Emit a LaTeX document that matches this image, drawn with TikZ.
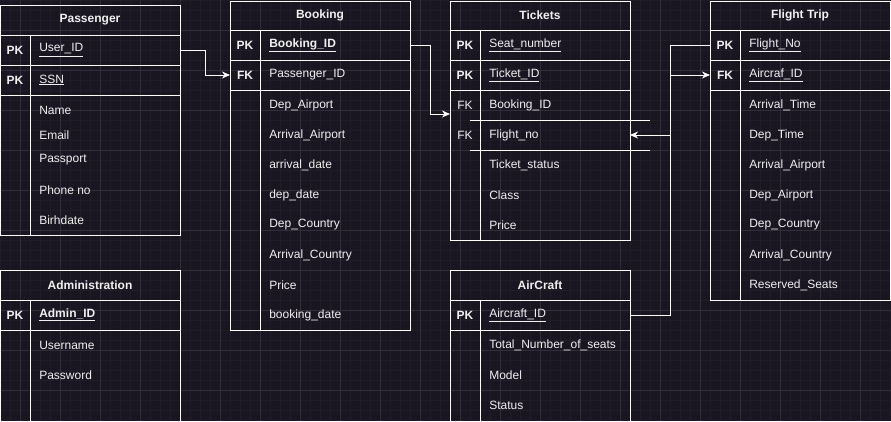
\documentclass[tikz,border=0pt]{standalone}
\usepackage{fontspec}
\setmainfont{Liberation Sans}
\usetikzlibrary{arrows.meta}
\definecolor{canvas}{RGB}{25,22,33}
\definecolor{gridminor}{RGB}{32,29,40}
\definecolor{gridmajor}{RGB}{50,47,58}
\definecolor{ink}{RGB}{240,240,240}
\newcommand{\erfont}{\fontsize{12}{14}\selectfont}

\tikzset{every picture/.style={line width=1pt}}
\tikzset{
  tbl/.style={draw=white, anchor=north west, inner sep=0pt, outer sep=0pt, minimum width=180},
  title/.style={inner sep=0.75pt, text=ink, font=\erfont\bfseries},
  attr/.style={anchor=west, inner sep=0.75pt, text=ink, font=\erfont},
  keytag/.style={inner sep=0.75pt, text=ink, font=\erfont\bfseries},
  fktag/.style={inner sep=0.75pt, text=ink, font=\erfont},
  rule/.style={draw=white},
  link/.style={draw=white, -{Stealth[length=8pt,width=7pt,inset=2.5pt]}},
}

\begin{document}
\begin{tikzpicture}[x=1pt,y=1pt,yscale=-1,xscale=1]
        \useasboundingbox (0,0) rectangle (891,421);
        \fill [canvas] (0,0) rectangle (891,421);
        %grid
        \foreach \gx in {0,10,...,890} {\draw [gridminor, line width=0.5pt] (\gx,0) -- (\gx,421);}
        \foreach \gy in {0,10,...,420} {\draw [gridminor, line width=0.5pt] (0,\gy) -- (891,\gy);}
        \foreach \gx in {20,60,...,860} {\draw [gridmajor, line width=0.6pt] (\gx,0) -- (\gx,421);}
        \foreach \gy in {30,70,...,410} {\draw [gridmajor, line width=0.6pt] (0,\gy) -- (891,\gy);}

        %Table: Passenger
        \draw (0.5,5) node [tbl, minimum height=230] (passenger) {};
        \draw [rule] (0.5,35) -- (180.5,35) ;
        \draw [rule] (0.5,65) -- (180.5,65) ;
        \draw [rule] (0.5,95) -- (180.5,95) ;
        \draw [rule] (30,35) -- (30,235) ;
        % Text Node
        \draw (90,20) node [title] (pTitle) {Passenger};
        \draw (15,50) node [keytag] (pPK1) {PK};
        \draw (15,80) node [keytag] (pPK2) {PK};
        \draw (38,50) node [attr] (pUser) {\underline{User\_ID}};
        \draw (38,80) node [attr] (pSSN) {\underline{SSN}};
        \draw (38,110) node [attr] (pName) {Name};
        \draw (38,135) node [attr] (pEmail) {Email};
        \draw (38,160) node [attr] (pPassport) {Passport};
        \draw (38,190) node [attr] (pPhone) {Phone no};
        \draw (38,220) node [attr] (pBirth) {Birhdate};

        %Table: Administration
        \draw (0.5,270) node [tbl, minimum height=160] (admin) {};
        \draw [rule] (0.5,300) -- (180.5,300) ;
        \draw [rule] (0.5,330) -- (180.5,330) ;
        \draw [rule] (30,300) -- (30,430) ;
        % Text Node
        \draw (90,285) node [title] (adTitle) {Administration};
        \draw (15,315) node [keytag] (adPK) {PK};
        \draw (38,315) node [attr] (adID) {\textbf{\underline{Admin\_ID}}};
        \draw (38,345) node [attr] (adUser) {Username};
        \draw (38,375) node [attr] (adPass) {Password};

        %Table: Booking
        \draw (230,1) node [tbl, minimum height=329] (booking) {};
        \draw [rule] (230,30) -- (410,30) ;
        \draw [rule] (230,60) -- (410,60) ;
        \draw [rule] (230,90) -- (410,90) ;
        \draw [rule] (260,30) -- (260,330) ;
        % Text Node
        \draw (320,15) node [title] (bTitle) {Booking};
        \draw (245,45) node [keytag] (bPK) {PK};
        \draw (245,75) node [keytag] (bFK) {FK};
        \draw (268,45) node [attr] (bBookID) {\textbf{\underline{Booking\_ID}}};
        \draw (268,75) node [attr] (bPass) {Passenger\_ID};
        \draw (268,105) node [attr] (bDepAir) {Dep\_Airport};
        \draw (268,135) node [attr] (bArrAir) {Arrival\_Airport};
        \draw (268,165) node [attr] (bArrDate) {arrival\_date};
        \draw (268,195) node [attr] (bDepDate) {dep\_date};
        \draw (268,225) node [attr] (bDepCty) {Dep\_Country};
        \draw (268,255) node [attr] (bArrCty) {Arrival\_Country};
        \draw (268,285) node [attr] (bPrice) {Price};
        \draw (268,315) node [attr] (bBookDate) {booking\_date};

        %Table: Tickets
        \draw (450,1) node [tbl, minimum height=239] (tickets) {};
        \draw [rule] (450,30) -- (630,30) ;
        \draw [rule] (450,60) -- (630,60) ;
        \draw [rule] (450,90) -- (630,90) ;
        \draw [rule] (480,30) -- (480,240) ;
        \draw [rule] (470,120) -- (650,120) ;
        \draw [rule] (470,150) -- (650,150) ;
        % Text Node
        \draw (540,15) node [title] (tTitle) {Tickets};
        \draw (465,45) node [keytag] (tPK1) {PK};
        \draw (465,75) node [keytag] (tPK2) {PK};
        \draw (465,105) node [fktag] (tFK1) {FK};
        \draw (465,135) node [fktag] (tFK2) {FK};
        \draw (488,45) node [attr] (tSeat) {\underline{Seat\_number}};
        \draw (488,75) node [attr] (tTicket) {\underline{Ticket\_ID}};
        \draw (488,105) node [attr] (tBook) {Booking\_ID};
        \draw (488,135) node [attr] (tFlight) {Flight\_no};
        \draw (488,165) node [attr] (tStatus) {Ticket\_status};
        \draw (488,195) node [attr] (tClass) {Class};
        \draw (488,225) node [attr] (tPrice) {Price};
        \coordinate (tBookIn) at (450,114);

        %Table: AirCraft
        \draw (450,270) node [tbl, minimum height=160] (aircraft) {};
        \draw [rule] (450,300) -- (630,300) ;
        \draw [rule] (450,330) -- (630,330) ;
        \draw [rule] (480,300) -- (480,430) ;
        % Text Node
        \draw (540,285) node [title] (aTitle) {AirCraft};
        \draw (465,315) node [keytag] (aPK) {PK};
        \draw (488,315) node [attr] (aID) {\underline{Aircraft\_ID}};
        \draw (488,345) node [attr] (aSeats) {Total\_Number\_of\_seats};
        \draw (488,375) node [attr] (aModel) {Model};
        \draw (488,405) node [attr] (aStatus) {Status};

        %Table: Flight Trip
        \draw (710,1) node [tbl, minimum height=299] (flight) {};
        \draw [rule] (710,30) -- (890,30) ;
        \draw [rule] (710,60) -- (890,60) ;
        \draw [rule] (710,90) -- (890,90) ;
        \draw [rule] (740,30) -- (740,300) ;
        % Text Node
        \draw (800,15) node [title] (fTitle) {Flight Trip};
        \draw (725,45) node [keytag] (fPK) {PK};
        \draw (725,75) node [keytag] (fFK) {FK};
        \draw (748,45) node [attr] (fNo) {\underline{Flight\_No}};
        \draw (748,75) node [attr] (fAirID) {\underline{Aircraf\_ID}};
        \draw (748,105) node [attr] (fArrTime) {Arrival\_Time};
        \draw (748,135) node [attr] (fDepTime) {Dep\_Time};
        \draw (748,165) node [attr] (fArrAir) {Arrival\_Airport};
        \draw (748,195) node [attr] (fDepAir) {Dep\_Airport};
        \draw (748,225) node [attr] (fDepCty) {Dep\_Country};
        \draw (748,255) node [attr] (fArrCty) {Arrival\_Country};
        \draw (748,285) node [attr] (fSeats) {Reserved\_Seats};

        %Connectors
        \draw [link] (pUser -| passenger.east) -- ++(25,0) |- (bPass -| booking.west) ;
        \draw [link] (bBookID -| booking.east) -- ++(20,0) |- (tBookIn) ;
        \draw [link] (fNo -| flight.west) -- ++(-40,0) |- (tFlight -| tickets.east) ;
        \draw [link] (aID -| aircraft.east) -- ++(40,0) |- (fAirID -| flight.west) ;
\end{tikzpicture}
\end{document}
